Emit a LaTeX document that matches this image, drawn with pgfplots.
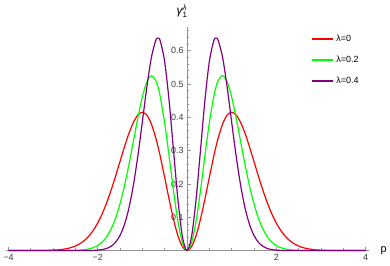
\documentclass[border=0pt]{standalone}
\usepackage{pgfplots}
\pgfplotsset{compat=1.18}
\usepackage{pgfplotstable}
\usepackage{amsmath}
\usepackage{fontspec}
\setmainfont{Liberation Sans}
\definecolor{mred}{RGB}{255,0,0}
\definecolor{mgreen}{RGB}{0,255,0}
\definecolor{mpurple}{RGB}{128,0,128}
\definecolor{axgray}{RGB}{150,150,150}
\definecolor{labgray}{RGB}{60,60,60}
\pgfplotstableread{
p r g v
-4.0 0 0 0
-3.5 0.00007 0 0
-3.2 0.00041 0 0
-3.0 0.00125 0.00001 0
-2.9 0.00211 0.00003 0
-2.8 0.00348 0.00006 0
-2.7 0.00561 0.00014 0
-2.6 0.00884 0.00031 0
-2.5 0.01361 0.00065 0.00001
-2.4 0.02048 0.00131 0.00003
-2.3 0.03010 0.00254 0.00008
-2.2 0.04318 0.00479 0.00022
-2.1 0.06048 0.00869 0.00054
-2.0 0.08267 0.01518 0.00130
-1.9 0.11020 0.02557 0.00295
-1.8 0.14318 0.04145 0.00634
-1.7 0.18123 0.06474 0.01289
-1.6 0.22331 0.09728 0.02490
-1.5 0.26760 0.14040 0.04550
-1.4 0.31153 0.19449 0.07852
-1.3 0.35187 0.25842 0.12806
-1.2 0.38498 0.32849 0.19693
-1.1 0.40714 0.39869 0.28479
-1.0 0.41511 0.46107 0.38627
-0.9 0.40659 0.50614 0.48993
-0.8 0.38079 0.52494 0.57813
-0.7 0.33873 0.51095 0.63066
-0.65 0.31246 0.49078 0.63770
-0.6 0.28341 0.46215 0.62974
-0.5 0.21970 0.38270 0.56694
-0.4 0.15385 0.28287 0.44873
-0.3 0.09281 0.17797 0.29774
-0.2 0.04337 0.08569 0.14890
-0.1 0.01117 0.02247 0.03996
0.0 0 0 0
0.1 0.01117 0.02247 0.03996
0.2 0.04337 0.08569 0.14890
0.3 0.09281 0.17797 0.29774
0.4 0.15385 0.28287 0.44873
0.5 0.21970 0.38270 0.56694
0.6 0.28341 0.46215 0.62974
0.65 0.31246 0.49078 0.63770
0.7 0.33873 0.51095 0.63066
0.8 0.38079 0.52494 0.57813
0.9 0.40659 0.50614 0.48993
1.0 0.41511 0.46107 0.38627
1.1 0.40714 0.39869 0.28479
1.2 0.38498 0.32849 0.19693
1.3 0.35187 0.25842 0.12806
1.4 0.31153 0.19449 0.07852
1.5 0.26760 0.14040 0.04550
1.6 0.22331 0.09728 0.02490
1.7 0.18123 0.06474 0.01289
1.8 0.14318 0.04145 0.00634
1.9 0.11020 0.02557 0.00295
2.0 0.08267 0.01518 0.00130
2.1 0.06048 0.00869 0.00054
2.2 0.04318 0.00479 0.00022
2.3 0.03010 0.00254 0.00008
2.4 0.02048 0.00131 0.00003
2.5 0.01361 0.00065 0.00001
2.6 0.00884 0.00031 0
2.7 0.00561 0.00014 0
2.8 0.00348 0.00006 0
2.9 0.00211 0.00003 0
3.0 0.00125 0.00001 0
3.2 0.00041 0 0
3.5 0.00007 0 0
4.0 0 0 0
}\data
\begin{document}
\begin{tikzpicture}
\begin{axis}[
  scale only axis, width=365pt, height=224.5pt,
  xmin=-4.05, xmax=4.08, ymin=0, ymax=0.67,
  axis lines=middle,
  axis line style={draw=axgray, line width=0.6pt, -},
  xtick={-4,-2,2,4}, xticklabels={−4,−2,2,4},
  minor xtick={-3.5,-3,-2.5,-1.5,-1,-0.5,0.5,1,1.5,2.5,3,3.5},
  ytick={0.1,0.2,0.3,0.4,0.5,0.6},
  yticklabels={0.1,0.2,0.3,0.4,0.5,0.6},
  minor ytick={0.02,0.04,0.06,0.08,0.12,0.14,0.16,0.18,0.22,0.24,0.26,0.28,0.32,0.34,0.36,0.38,0.42,0.44,0.46,0.48,0.52,0.54,0.56,0.58,0.62,0.64,0.66},
  tick style={draw=axgray, line width=0.5pt},
  major tick length=4pt, minor tick length=2.5pt,
  tick align=inside,
  ticklabel style={font=\fontsize{9}{10}\selectfont, text=labgray},
  xticklabel style={yshift=-0.5pt},
  /pgf/number format/assume math mode=true,
  xlabel={p}, ylabel={$\text{\itshape γ}_{\text{1}}^{\text{\itshape λ}}$},
  xlabel style={at={(rel axis cs:1,0)}, anchor=west, xshift=8pt, font=\fontsize{11}{12}\selectfont},
  ylabel style={at={(axis cs:0,0.67)}, anchor=south east, yshift=6pt, xshift=4pt, font=\fontsize{12}{13}\selectfont},
  legend style={draw=none, fill=none, at={(rel axis cs:0.83,0.985)}, anchor=north west,
    font=\fontsize{9}{10}\selectfont, row sep=9pt,
    /tikz/every even column/.append style={column sep=5pt}},
  legend cell align=left,
  clip=false,
]
\addplot[color=mred, line width=1.2pt, smooth, forget plot] table[x=p, y=r] {\data};
\addplot[color=mgreen, line width=1.2pt, smooth, forget plot] table[x=p, y=g] {\data};
\addplot[color=mpurple, line width=1.2pt, smooth, forget plot] table[x=p, y=v] {\data};
\addlegendimage{legend image code/.code={\draw[draw=mred, line width=2pt] (0pt,0pt) -- (22pt,0pt);}}
\addlegendentry{λ=0}
\addlegendimage{legend image code/.code={\draw[draw=mgreen, line width=2pt] (0pt,0pt) -- (22pt,0pt);}}
\addlegendentry{λ=0.2}
\addlegendimage{legend image code/.code={\draw[draw=mpurple, line width=2pt] (0pt,0pt) -- (22pt,0pt);}}
\addlegendentry{λ=0.4}
\coordinate (sw) at (rel axis cs:0,0);
\coordinate (ne) at (rel axis cs:1,1);
\end{axis}
\path ([shift={(-5pt,-15pt)}]sw) rectangle ([shift={(20pt,27.5pt)}]ne);
\end{tikzpicture}
\end{document}
